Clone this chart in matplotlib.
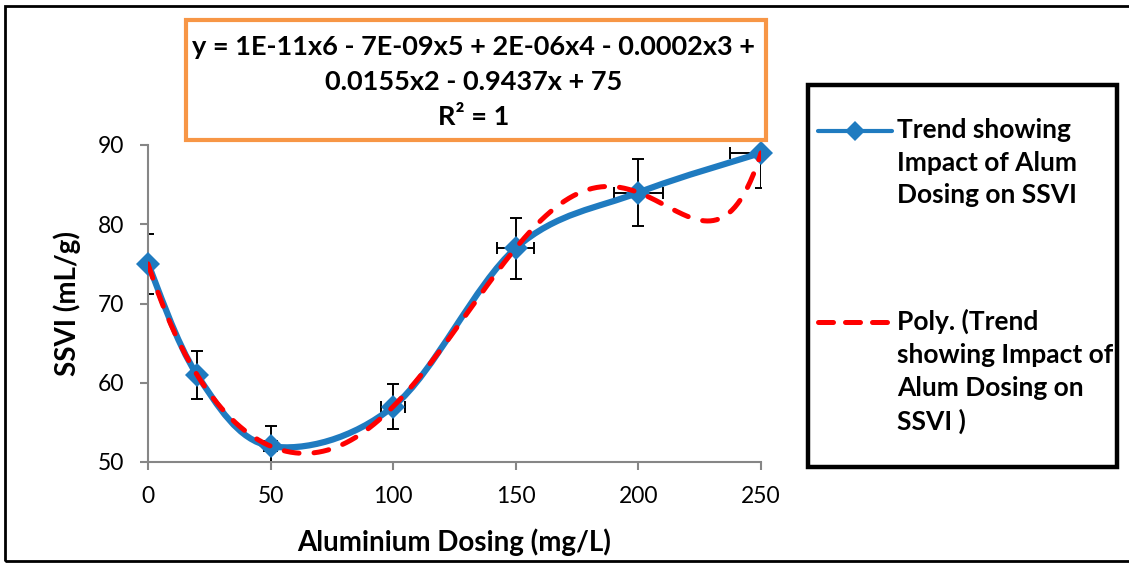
import numpy as np
import matplotlib
matplotlib.use("Agg")
import matplotlib.pyplot as plt
from matplotlib.path import Path
from matplotlib.patches import PathPatch, Rectangle
from matplotlib.lines import Line2D

plt.rcParams['font.family'] = ['Lato', 'DejaVu Sans']

# Data
dose = [0, 20, 50, 100, 150, 200, 250]          # Aluminium dosing (mg/L)
ssvi = [75, 61, 52, 57, 77, 84, 89]             # SSVI (mL/g)
err_pct = 0.05                                  # 5% error bars on both axes
x_ticks = [0, 50, 100, 150, 200, 250]
y_ticks = [50, 60, 70, 80, 90]

series_label = "Trend showing\nImpact of Alum\nDosing on SSVI"
trend_label = "Poly. (Trend\nshowing Impact of\nAlum Dosing on\nSSVI )"
equation = ("y = 1E-11x6 - 7E-09x5 + 2E-06x4 - 0.0002x3 +\n"
            "0.0155x2 - 0.9437x + 75\nR\u00b2 = 1")

blue = "#1F7BC0"
red = "#FF0000"
orange = "#F79646"
grey = "#868686"

W, H = 1129, 563


def px(x, y):
    # pixel position (from top-left) -> figure fraction
    return x / W, 1 - y / H


def smooth_path(xs, ys):
    # Excel-style smoothed line: cubic Bezier through every point
    pts = np.column_stack([xs, ys]).astype(float)
    n = len(pts)
    verts = [pts[0]]
    codes = [Path.MOVETO]
    for i in range(n - 1):
        p0 = pts[max(i - 1, 0)]
        p1 = pts[i]
        p2 = pts[i + 1]
        p3 = pts[min(i + 2, n - 1)]
        verts += [p1 + (p2 - p0) / 6, p2 - (p3 - p1) / 6, p2]
        codes += [Path.CURVE4] * 3
    return Path(verts, codes)


fig = plt.figure(figsize=(W / 100, H / 100), dpi=100)
l, b = px(148, 462)
r, t = px(761, 145)
ax = fig.add_axes([l, b, r - l, t - b])

x = np.array(dose, dtype=float)
y = np.array(ssvi, dtype=float)

# error bars (5% in x and y)
ax.errorbar(x, y, xerr=err_pct * x, yerr=err_pct * y, fmt='none',
            ecolor='black', elinewidth=1.4, capsize=4, capthick=1.4, zorder=1)

# smoothed series line with diamond markers
ax.add_patch(PathPatch(smooth_path(x, y), facecolor='none', edgecolor=blue,
                       lw=4.5, capstyle='round', joinstyle='round', zorder=2))
ax.plot(x, y, linestyle='none', marker='D', markersize=12, color=blue,
        markeredgewidth=0, zorder=3, clip_on=False)

# 6th order polynomial trendline
coeffs = np.polyfit(x, y, 6)
xs = np.linspace(0, 250, 400)
ax.plot(xs, np.polyval(coeffs, xs), color=red, lw=3.6, linestyle=(0, (3.0, 3.0)),
        dash_capstyle='round', zorder=4)

ax.set_xlim(0, 250)
ax.set_ylim(50, 90)
ax.set_xticks(x_ticks)
ax.set_yticks(y_ticks)
for side in ['top', 'right']:
    ax.spines[side].set_visible(False)
for side in ['left', 'bottom']:
    ax.spines[side].set_color(grey)
    ax.spines[side].set_linewidth(1.5)
ax.tick_params(axis='both', direction='out', length=6, width=1.5, color=grey,
               labelsize=16.5, labelcolor='black')
ax.tick_params(axis='y', pad=11)
ax.tick_params(axis='x', pad=11)

ax.set_xlabel("Aluminium Dosing (mg/L)", fontsize=20, fontweight='bold', labelpad=16)
ax.set_ylabel("SSVI (mL/g)", fontsize=20, fontweight='bold', labelpad=12)

# equation box
ex0, ey0 = px(186, 140)
ex1, ey1 = px(766, 20)
fig.add_artist(Rectangle((ex0, ey0), ex1 - ex0, ey1 - ey0, transform=fig.transFigure,
                         facecolor='white', edgecolor=orange, lw=3, zorder=5))
fig.text(*px(474, 82), equation, ha='center', va='center', fontsize=19.5,
         fontweight='bold', linespacing=1.55, zorder=6)

# legend box
lx0, ly0 = px(808, 467)
lx1, ly1 = px(1117, 85)
fig.add_artist(Rectangle((lx0, ly0), lx1 - lx0, ly1 - ly0, transform=fig.transFigure,
                         facecolor='white', edgecolor='black', lw=3.2, zorder=5))
hx0, hy1 = px(818, 131)
hx1, _ = px(892, 131)
fig.add_artist(Line2D([hx0, hx1], [hy1, hy1], transform=fig.transFigure, color=blue,
                      lw=3, solid_capstyle='round', zorder=6))
fig.add_artist(Line2D([(hx0 + hx1) / 2], [hy1], transform=fig.transFigure, color=blue,
                      marker='D', markersize=10, markeredgewidth=0, zorder=6))
_, hy2 = px(818, 322)
fig.add_artist(Line2D([hx0, hx1], [hy2, hy2], transform=fig.transFigure, color=red,
                      lw=3.6, linestyle=(0, (3.0, 2.4)), dash_capstyle='round', zorder=6))
fig.text(*px(897, 118), series_label, ha='left', va='top', fontsize=19,
         fontweight='bold', linespacing=1.43, zorder=6)
fig.text(*px(897, 309), trend_label, ha='left', va='top', fontsize=19,
         fontweight='bold', linespacing=1.43, zorder=6)

# outer chart border
fig.add_artist(Rectangle(px(5, 561), 1.1, (561 - 6) / H, transform=fig.transFigure,
                         facecolor='none', edgecolor='black', lw=2, zorder=0))

fig.savefig("out.png", dpi=100)
